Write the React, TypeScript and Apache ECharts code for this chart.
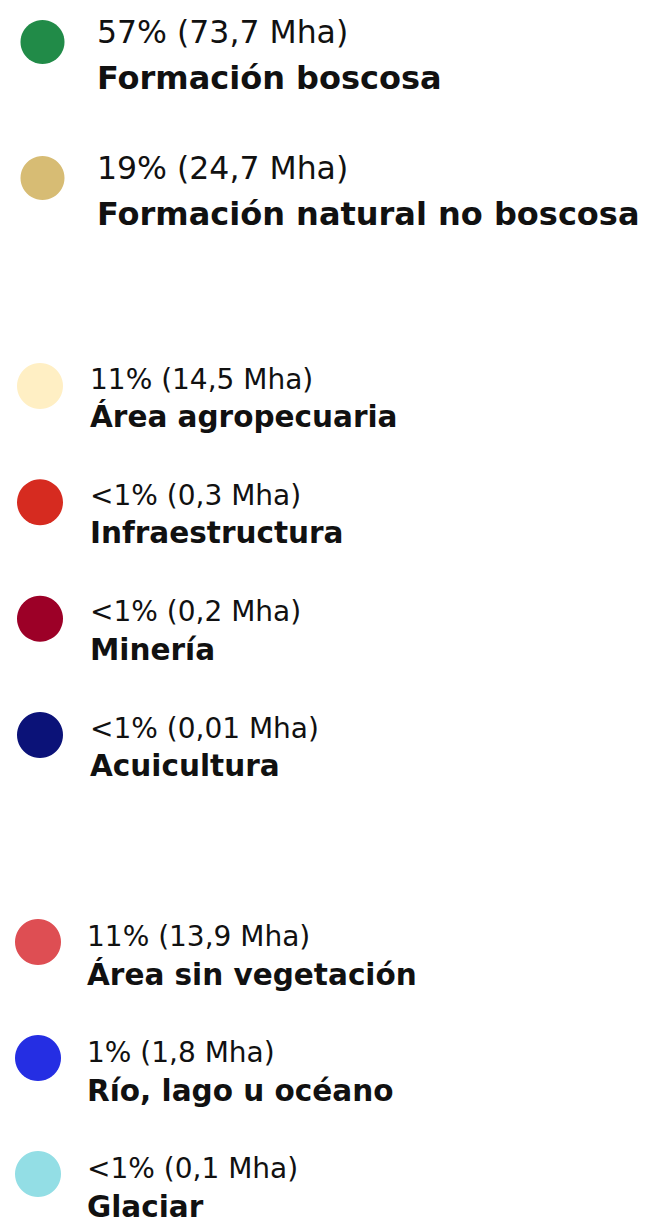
import React, { useEffect, useRef } from "react";
import * as echarts from "echarts";

const categories = [
  "Formación boscosa",
  "Formación natural no boscosa",
  "Área agropecuaria",
  "Infraestructura",
  "Minería",
  "Acuicultura",
  "Área sin vegetación",
  "Río, lago u océano",
  "Glaciar",
];
const percentLabels = ["57%", "19%", "11%", "<1%", "<1%", "<1%", "11%", "1%", "<1%"];
const areaMha = [73.7, 24.7, 14.5, 0.3, 0.2, 0.01, 13.9, 1.8, 0.1];
const colors = [
  "#218B48",
  "#D7BC74",
  "#FFEFC4",
  "#D62B20",
  "#9C0027",
  "#0B1278",
  "#DE4E53",
  "#252EE3",
  "#93DEE5",
];
const groups = [
  [0, 1],
  [2, 3, 4, 5],
  [6, 7, 8],
];

const FONT = "'DejaVu Sans', sans-serif";

// layout per group (positions/sizes only)
const layouts = [
  { left: 42.5, top: 42, height: 136, size: 44, fp: 31.5, fn: 32, lh: 46, dx: 76.5, dy: -11 },
  { left: 40, top: 386, height: 349, size: 46, fp: 28, fn: 29.5, lh: 38, dx: 73, dy: -3 },
  { left: 38, top: 942, height: 232, size: 46, fp: 28, fn: 29.5, lh: 38, dx: 72, dy: -1.5 },
];

const fmt = (v: number) => String(v).replace(".", ",");

export default function App() {
  const ref = useRef<HTMLDivElement>(null);
  useEffect(() => {
    if (!ref.current) return;
    const chart = echarts.init(ref.current, undefined, { renderer: "svg" });
    const grid: any[] = [];
    const xAxis: any[] = [];
    const yAxis: any[] = [];
    const series: any[] = [];
    groups.forEach((g, gi) => {
      const L = layouts[gi];
      grid.push({ left: L.left, top: L.top, height: L.height, width: 100, containLabel: false });
      xAxis.push({ gridIndex: gi, type: "value", min: 0, max: 1, show: false });
      yAxis.push({
        gridIndex: gi,
        type: "category",
        data: g.map((i) => categories[i]),
        inverse: true,
        boundaryGap: false,
        show: false,
      });
      series.push({
        type: "scatter",
        xAxisIndex: gi,
        yAxisIndex: gi,
        symbol: "circle",
        symbolSize: L.size,
        silent: true,
        itemStyle: { opacity: 1 },
        data: g.map((i) => ({
          value: [0, categories[i]],
          itemStyle: { color: colors[i], opacity: 1 },
          label: {
            show: true,
            position: [L.dx, L.dy],
            align: "left",
            verticalAlign: "top",
            opacity: 1,
            formatter: `{p|${percentLabels[i]} (${fmt(areaMha[i])} Mha)}\n{n|${categories[i]}}`,
            rich: {
              p: {
                fontFamily: FONT,
                fontSize: L.fp,
                fontWeight: 400,
                color: "#111111",
                lineHeight: L.lh,
              },
              n: {
                fontFamily: FONT,
                fontSize: L.fn,
                fontWeight: 700,
                color: "#111111",
                lineHeight: L.lh,
              },
            },
          },
        })),
      });
    });
    chart.setOption({
      animation: false,
      backgroundColor: "#ffffff",
      grid,
      xAxis,
      yAxis,
      series,
    });
    return () => chart.dispose();
  }, []);
  return (
    <div
      ref={ref}
      style={{ position: "fixed", left: 0, top: 0, width: 649, height: 1218 }}
    />
  );
}
